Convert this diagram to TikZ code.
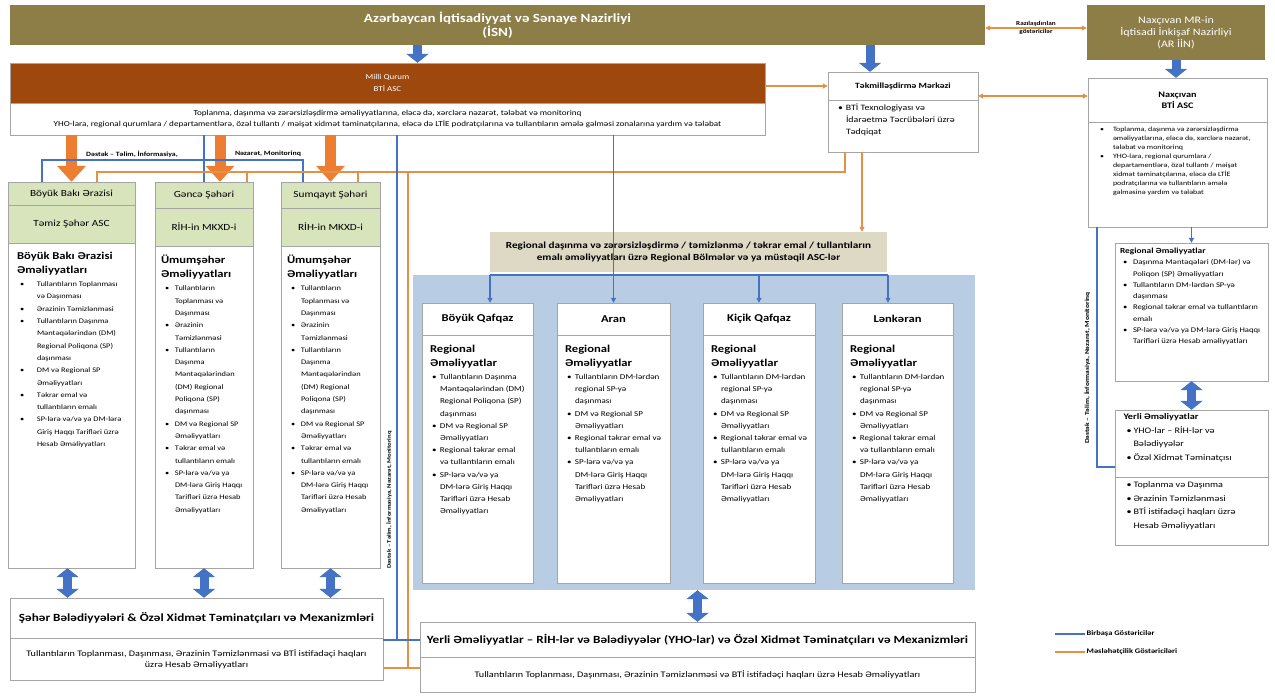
\documentclass[tikz,border=0pt]{standalone}
\usepackage{fontspec}
\setmainfont{Carlito}[FakeStretch=1.2]
\usepackage{xcolor}
\usetikzlibrary{arrows.meta, positioning}

\definecolor{olv}{RGB}{141,126,72}
\definecolor{brn}{RGB}{158,72,14}
\definecolor{grn}{RGB}{216,228,188}
\definecolor{tanbg}{RGB}{221,217,196}
\definecolor{regbg}{RGB}{184,204,228}
\definecolor{lblue}{RGB}{68,114,196}
\definecolor{orng}{RGB}{237,125,49}
\definecolor{orl}{RGB}{226,145,70}
\definecolor{boxg}{RGB}{165,165,165}

\newlength{\itmind}\setlength{\itmind}{12pt}
\newlength{\bulsh}\setlength{\bulsh}{3pt}
\newcommand{\itm}[1]{\par\hangindent=\itmind\hangafter=1\noindent\makebox[\itmind][l]{\hspace{\bulsh}\textbullet}#1\par}
\newcommand{\bx}[3]{\parbox[c][#2pt][t]{#1pt}{\raggedright #3}}
\newcommand{\hd}{\fontsize{10.5}{14}\selectfont\bfseries}
\newcommand{\citybody}[1]{\vspace*{3pt}{\hd #1\par}\vspace{1pt}%
  \itm{Tullantıların Toplanması və Daşınması}%
  \itm{Ərazinin Təmizlənməsi}%
  \itm{Tullantıların Daşınma Məntəqələrindən (DM) Regional Poliqona (SP) daşınması}%
  \itm{DM və Regional SP Əməliyyatları}%
  \itm{Təkrar emal və tullantıların emalı}%
  \itm{SP-lərə və/və ya DM-lərə Giriş Haqqı Tarifləri üzrə Hesab Əməliyyatları}}
\newcommand{\regbody}[1]{\vspace*{5pt}{\fontsize{10.5}{14}\selectfont\bfseries Regional Əməliyyatlar\par}\vspace{1pt}%
  \setlength{\itmind}{10pt}\setlength{\bulsh}{2pt}%
  \itm{#1}%
  \itm{DM və Regional SP Əməliyyatları}%
  \itm{Regional təkrar emal və tullantıların emalı}%
  \itm{SP-lərə və/və ya DM-lərə Giriş Haqqı Tarifləri üzrə Hesab Əməliyyatları}}

\begin{document}
\begin{tikzpicture}[
    x=1pt, y=-1pt,
    >={Triangle[length=5pt, width=5pt]},
    olvbox/.style={fill=olv, text=white, align=center},
    brnbox/.style={fill=brn, draw=boxg, text=white, align=center},
    wbox/.style={draw=boxg, fill=white, inner sep=0pt, align=center},
    grnbox/.style={draw=boxg, fill=grn, align=center, font=\fontsize{9.4}{11}\selectfont},
    tanbox/.style={fill=tanbg, align=center, font=\fontsize{9.3}{12.5}\selectfont\bfseries},
    rhead/.style={wbox, minimum height=32, font=\fontsize{10.5}{12}\selectfont\bfseries},
    rbody/.style={wbox, minimum height=248, font=\fontsize{7.5}{12.2}\selectfont},
    cbody/.style={wbox, font=\fontsize{7}{12.3}\selectfont},
    blueline/.style={draw=lblue, line width=1.1pt},
    orgline/.style={draw=orl, line width=1.3pt},
    bigblue/.style={draw=lblue, line width=9pt, -{Triangle[length=9pt, width=22pt]}},
    bigorg/.style={draw=orng, line width=11pt, -{Triangle[length=16pt, width=28pt]}},
    dblblue/.style={draw=lblue, line width=9pt,
      {Triangle[length=9pt, width=22pt]}-{Triangle[length=9pt, width=22pt]}},
    lbl/.style={font=\fontsize{6.5}{7.5}\selectfont\bfseries, inner sep=1pt},
  ]

  \fill[white] (0,0) rectangle (1275,697);
  \useasboundingbox (0,0) rectangle (1275,697);

  % Nazirliklər
  \node[olvbox, minimum width=975, minimum height=40, font=\fontsize{12.5}{14}\selectfont\bfseries]
    (isn) at (497.5,25) {Azərbaycan İqtisadiyyat və Sənaye Nazirliyi\\(İSN)};
  \node[olvbox, minimum width=178, minimum height=55, font=\fontsize{10}{12}\selectfont]
    (nmr) at (1176,32.5) {Naxçıvan MR-in\\İqtisadi İnkişaf Nazirliyi\\(AR İİN)};

  % Milli Qurum
  \node[brnbox, minimum width=755, minimum height=40, font=\fontsize{7.5}{12}\selectfont]
    (mqh) at (387.5,83) {Milli Qurum\\BTİ ASC};
  \node[wbox, minimum width=755, minimum height=32, font=\fontsize{7.6}{11}\selectfont]
    (mqb) at (387.5,119) {Toplanma, daşınma və zərərsizləşdirmə əməliyyatlarına, eləcə də, xərclərə nəzarət, tələbat və monitorinq\\
    YHO-lara, regional qurumlara / departamentlərə, özəl tullantı / məişət xidmət təminatçılarına, eləcə də LTİE podratçılarına və tullantıların əmələ gəlməsi zonalarına yardım və tələbat};

  % Təkmilləşdirmə Mərkəzi
  \node[wbox, minimum width=150, minimum height=28, font=\fontsize{8}{10}\selectfont\bfseries]
    (tekh) at (903,86) {Təkmilləşdirmə Mərkəzi};
  \node[wbox, minimum width=150, minimum height=52, font=\fontsize{8.2}{12}\selectfont]
    (tekb) at (903,126) {\hspace*{-12pt}\bx{124}{44}{\setlength{\itmind}{11pt}\itm{BTİ Texnologiyası və İdarəetmə Təcrübələri üzrə Tədqiqat}}};

  % Naxçıvan
  \node[wbox, minimum width=179, minimum height=44, font=\fontsize{8.5}{11}\selectfont\bfseries]
    (nbh) at (1177.5,100) {Naxçıvan\\BTİ ASC};
  \node[wbox, minimum width=179, minimum height=105, font=\fontsize{6.6}{9}\selectfont]
    (nbb) at (1177.5,174.5) {\bx{163}{95}{\setlength{\itmind}{17pt}\setlength{\bulsh}{4pt}%
      \itm{Toplanma, daşınma və zərərsizləşdirmə əməliyyatlarına, eləcə də, xərclərə nəzarət, tələbat və monitorinq}%
      \itm{YHO-lara, regional qurumlara / departamentlərə, özəl tullantı / məişət xidmət təminatçılarına, eləcə də LTİE podratçılarına və tullantıların əmələ gəlməsinə yardım və tələbat}}};
  \node[wbox, minimum width=153, minimum height=138, font=\fontsize{7.2}{11.3}\selectfont]
    (rop) at (1191.5,312) {\bx{143}{128}{{\fontsize{7.8}{11}\selectfont\bfseries Regional Əməliyyatlar\par}%
      \setlength{\itmind}{13pt}%
      \itm{Daşınma Məntəqələri (DM-lər) və Poliqon (SP) Əməliyyatları}%
      \itm{Tullantıların DM-lərdən SP-yə daşınması}%
      \itm{Regional təkrar emal və tullantıların emalı}%
      \itm{SP-lərə və/və ya DM-lərə Giriş Haqqı Tarifləri üzrə Hesab əməliyyatları}}};
  \node[wbox, minimum width=153, minimum height=67, font=\fontsize{8.4}{13.5}\selectfont]
    (yerh) at (1191.5,443.5) {\hspace*{-8pt}\bx{128}{59}{{\fontsize{8.5}{13}\selectfont\bfseries Yerli Əməliyyatlar\par}%
      \setlength{\itmind}{10pt}%
      \itm{YHO-lar – RİH-lər və Bələdiyyələr}%
      \itm{Özəl Xidmət Təminatçısı}}};
  \node[wbox, minimum width=153, minimum height=68, font=\fontsize{8.4}{13.5}\selectfont]
    (yerb) at (1191.5,511) {\hspace*{-8pt}\bx{128}{58}{\setlength{\itmind}{10pt}%
      \itm{Toplanma və Daşınma}%
      \itm{Ərazinin Təmizlənməsi}%
      \itm{BTİ istifadəçi haqları üzrə Hesab Əməliyyatları}}};

  % Şəhər sütunları
  \node[grnbox, minimum width=127, minimum height=23] (c1a) at (71.5,193.5) {Böyük Bakı Ərazisi};
  \node[grnbox, minimum width=127, minimum height=38] (c1b) at (71.5,224) {Təmiz Şəhər ASC};
  \node[cbody, minimum width=127, minimum height=325]
    (c1c) at (71.5,405.5) {\bx{109}{313}{\setlength{\itmind}{20pt}\setlength{\bulsh}{3pt}\citybody{Böyük Bakı Ərazisi Əməliyyatları}}};
  \node[grnbox, minimum width=98, minimum height=26] (c2a) at (204,195) {Gəncə Şəhəri};
  \node[grnbox, minimum width=98, minimum height=38] (c2b) at (204,227) {RİH-in MKXD-i};
  \node[cbody, minimum width=98, minimum height=322]
    (c2c) at (204,407) {\hspace*{-4pt}\bx{82}{310}{\setlength{\itmind}{14pt}\setlength{\bulsh}{4pt}\citybody{Ümumşəhər Əməliyyatları}}};
  \node[grnbox, minimum width=99, minimum height=26] (c3a) at (330.5,195) {Sumqayıt Şəhəri};
  \node[grnbox, minimum width=99, minimum height=38] (c3b) at (330.5,227) {RİH-in MKXD-i};
  \node[cbody, minimum width=99, minimum height=322]
    (c3c) at (330.5,407) {\hspace*{-4pt}\bx{83}{310}{\setlength{\itmind}{14pt}\setlength{\bulsh}{4pt}\citybody{Ümumşəhər Əməliyyatları}}};

  % Şəhər səviyyəsi
  \node[wbox, minimum width=373, minimum height=40, font=\fontsize{11}{13}\selectfont\bfseries]
    (bh) at (196.5,618) {Şəhər Bələdiyyələri \& Özəl Xidmət Təminatçıları və Mexanizmləri};
  \node[wbox, minimum width=373, minimum height=42, font=\fontsize{8.5}{11}\selectfont]
    (bb) at (196.5,659) {Tullantıların Toplanması, Daşınması, Ərazinin Təmizlənməsi və BTİ istifadəçi haqları\\üzrə Hesab Əməliyyatları};

  % Regional bölmələr
  \node[fill=regbg, minimum width=562, minimum height=315, inner sep=0pt] (reg) at (694,432.5) {};
  \node[tanbox, minimum width=397, minimum height=40] (rh) at (688.5,252)
    {Regional daşınma və zərərsizləşdirmə / təmizlənmə / təkrar emal / tullantıların\\emalı əməliyyatları üzrə Regional Bölmələr və ya müstəqil ASC-lər};
  \node[rhead, minimum width=111] (bqh) at (477.5,319) {Böyük Qafqaz};
  \node[rbody, minimum width=111] (bqb) at (477.5,459)
    {\bx{95}{238}{\regbody{Tullantıların Daşınma Məntəqələrindən (DM) Regional Poliqona (SP) daşınması}}};
  \node[rhead, minimum width=113] (arh) at (613.5,319) {Aran};
  \node[rbody, minimum width=113] (arb) at (613.5,459)
    {\bx{97}{238}{\regbody{Tullantıların DM-lərdən regional SP-yə daşınması}}};
  \node[rhead, minimum width=112] (kqh) at (759,319) {Kiçik Qafqaz};
  \node[rbody, minimum width=112] (kqb) at (759,459)
    {\bx{96}{238}{\regbody{Tullantıların DM-lərdən regional SP-yə daşınması}}};
  \node[rhead, minimum width=111] (lkh) at (897.5,319) {Lənkəran};
  \node[rbody, minimum width=111] (lkb) at (897.5,459)
    {\bx{95}{238}{\regbody{Tullantıların DM-lərdən regional SP-yə daşınması}}};

  % Yerli səviyyə
  \node[wbox, minimum width=555, minimum height=35, font=\fontsize{11}{13}\selectfont\bfseries]
    (mh) at (697.5,639.5) {Yerli Əməliyyatlar – RİH-lər və Bələdiyyələr (YHO-lar) və Özəl Xidmət Təminatçıları və Mexanizmləri};
  \node[wbox, minimum width=555, minimum height=35, font=\fontsize{8.5}{11}\selectfont]
    (mb) at (697.5,674.5) {Tullantıların Toplanması, Daşınması, Ərazinin Təmizlənməsi və BTİ istifadəçi haqları üzrə Hesab Əməliyyatları};

  % Böyük oxlar
  \draw[bigblue] ([xshift=30pt]mqh.north |- isn.south) -- ([xshift=30pt]mqh.north);
  \draw[bigblue] ([xshift=-33pt]tekh.north |- isn.south) -- ([xshift=-33pt]tekh.north);
  \draw[bigblue] (nmr.south) -- (nmr.south |- nbh.north);
  \draw[bigorg] (mqb.south -| c1a.north) -- (c1a.north);
  \draw[bigorg] ([xshift=16pt]c2a.north |- mqb.south) -- ([xshift=16pt]c2a.north);
  \draw[bigorg] (mqb.south -| c3a.north) -- (c3a.north);
  \draw[dblblue] ([xshift=-4pt]c1c.south) -- ([xshift=-4pt]c1c.south |- bh.north);
  \draw[dblblue] (c2c.south) -- (c2c.south |- bh.north);
  \draw[dblblue] (c3c.south) -- (c3c.south |- bh.north);
  \draw[dblblue] (mh.north |- reg.south) -- (mh.north);
  \draw[dblblue] (rop.south) -- (yerh.north);

  % Razılaşdırma
  \draw[orgline, <->] ([yshift=-3pt]isn.east) -- ([yshift=-3pt]isn.east -| nmr.west)
    node[midway, above, lbl, font=\fontsize{6}{7}\selectfont\bfseries] {Razılaşdırılan}
    node[midway, below, lbl, font=\fontsize{6}{7}\selectfont\bfseries] {göstəricilər};
  \draw[orgline, ->] (mqh.east |- tekh.west) -- (tekh.west);
  \draw[orgline, <->] ([yshift=-10pt]tekh.east) -- ([yshift=-10pt]tekh.east -| nbh.west);

  % Dəstək xətləri (sol)
  \coordinate (d1) at (42,160);
  \coordinate (d3) at (303,160);
  \draw[blueline] (d1 |- c1a.north) -- (d1) -- (d3) -- (d3 |- c3a.north);
  \draw[blueline] (mqb.south -| c2a.north) -- (c2a.north);
  \node[lbl] (dl1) at (132,154) {Dəstək – Təlim, İnformasiya,};
  \node[lbl] (dl2) at (268,154) {Nəzarət, Monitorinq};

  % Məsləhət xətləri (sol)
  \coordinate (o1) at (97,172);
  \coordinate (o2) at (247,172);
  \coordinate (o3) at (358,172);
  \coordinate (o4) at (408,172);
  \coordinate (o5) at (845,172);
  \draw[orgline] (o1 |- c1a.north) -- (o1) -- (o5) -- (o5 |- tekb.south);
  \draw[orgline] (o2) -- (o2 |- c2a.north);
  \draw[orgline] (o3) -- (o3 |- c3a.north);
  \coordinate (oj) at (408,668);
  \draw[orgline] (o4) -- (oj);
  \draw[orgline] (oj -| bb.east) -- (oj -| mb.west);

  % Birbaşa xətt aşağı
  \coordinate (bj) at (397,640);
  \draw[blueline] (mqb.south -| bj) -- (bj);
  \draw[blueline] (bj -| bh.east) -- (bj -| mh.west);
  \node[lbl, rotate=90, font=\fontsize{5.6}{6.5}\selectfont\bfseries] (dl3) at (389,500) {Dəstək – Təlim, İnformasiya, Nəzarət, Monitorinq};

  % Regional oxlar
  \draw[orgline, ->] ([xshift=-41pt]tekb.south) -- ([xshift=-41pt]tekb.south |- rh.north);
  \coordinate (rl) at (490,275);
  \coordinate (rr) at (888,275);
  \draw[blueline] (rl) -- (rr);
  \draw[blueline, ->] (rl) -- (rl |- bqh.north);
  \draw[blueline, ->] (rr) -- (rr |- lkh.north);
  \draw[blueline, ->] (kqh.north |- rl) -- (kqh.north);
  \draw[blueline, ->] (mqb.south -| arh.north) -- (arh.north);

  % Naxçıvan xətləri
  \draw[blueline, ->] (nbb.south -| rop.north) -- (rop.north);
  \coordinate (rj) at (1097,467);
  \draw[blueline] (nbb.south -| rj) -- (rj) -- (rj -| yerh.west);
  \node[lbl, rotate=90, font=\fontsize{6.2}{7}\selectfont\bfseries] (dr) at (1087,368) {Dəstək – Təlim, İnformasiya, Nəzarət, Monitorinq};

  % Leqenda
  \coordinate (lg1) at (1055,634);
  \coordinate (lg2) at (1055,652);
  \draw[blueline] (lg1) -- ++(30,0) node[right, lbl, font=\fontsize{7}{8}\selectfont\bfseries] (lgb) {Birbaşa Göstəricilər};
  \draw[orgline] (lg2) -- ++(30,0) node[right, lbl, font=\fontsize{7}{8}\selectfont\bfseries] (lgo) {Məsləhətçilik Göstəriciləri};

\end{tikzpicture}
\end{document}
